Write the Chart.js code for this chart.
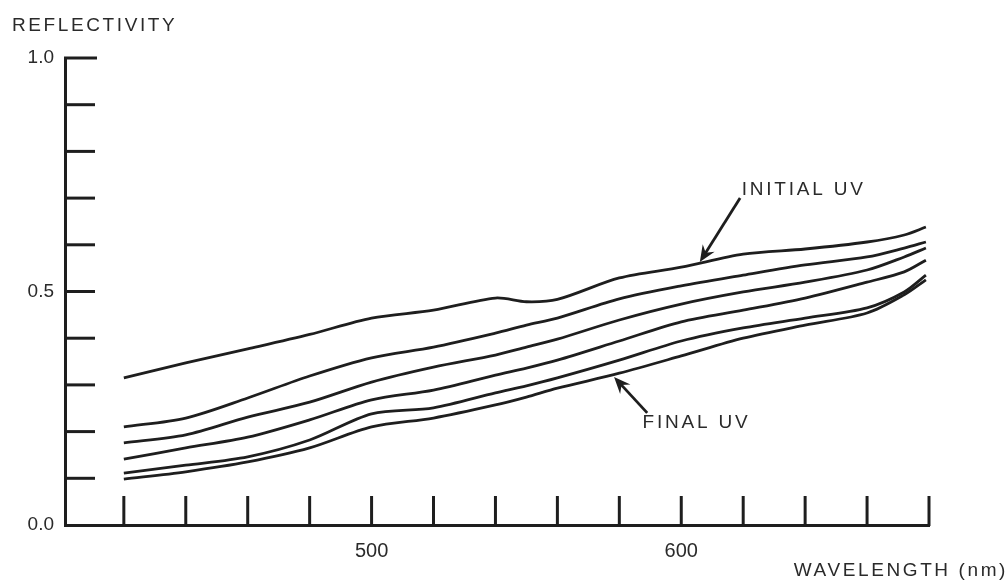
<!DOCTYPE html>
<html>
<head>
<meta charset="utf-8">
<script src="https://cdn.jsdelivr.net/npm/chart.js@4.4.1/dist/chart.umd.min.js"></script>
<style>
  html, body { margin: 0; padding: 0; background: #fff; }
  #wrap { width: 1008px; height: 581px; }
</style>
</head>
<body>
<div id="wrap"><canvas id="chart" width="1008" height="581"></canvas></div>
<script>
// wavelength (nm)
const wavelengths = [420, 440, 460, 480, 500, 520, 540, 550, 560, 580, 600, 620, 640, 660, 672, 679];

// six reflectivity traces, top (initial UV) to bottom (final UV)
const curve1 = [0.315, 0.347, 0.377, 0.408, 0.443, 0.460, 0.486, 0.478, 0.483, 0.529, 0.552, 0.580, 0.591, 0.606, 0.621, 0.638];
const curve2 = [0.210, 0.229, 0.272, 0.319, 0.358, 0.381, 0.411, 0.428, 0.443, 0.484, 0.512, 0.535, 0.557, 0.574, 0.593, 0.606];
const curve3 = [0.176, 0.193, 0.231, 0.263, 0.306, 0.338, 0.364, 0.381, 0.398, 0.439, 0.473, 0.499, 0.520, 0.546, 0.574, 0.593];
const curve4 = [0.141, 0.165, 0.188, 0.225, 0.268, 0.289, 0.321, 0.336, 0.353, 0.394, 0.435, 0.460, 0.486, 0.520, 0.542, 0.567];
const curve5 = [0.111, 0.128, 0.146, 0.182, 0.238, 0.251, 0.283, 0.298, 0.315, 0.353, 0.394, 0.422, 0.443, 0.465, 0.499, 0.535];
const curve6 = [0.098, 0.114, 0.135, 0.165, 0.210, 0.229, 0.257, 0.274, 0.293, 0.325, 0.362, 0.400, 0.428, 0.454, 0.493, 0.525];

const xTicks = [420, 440, 460, 480, 500, 520, 540, 560, 580, 600, 620, 640, 660, 680];
const xTickLabels = { 500: "500", 600: "600" };
const yTicks = [0, 0.1, 0.2, 0.3, 0.4, 0.5, 0.6, 0.7, 0.8, 0.9, 1.0];
const yTickLabels = ["0.0", "0.5", "1.0"];

// annotation labels: text at [nm, value], arrow from -> to
const noteTexts = ["INITIAL UV", "FINAL UV"];
const noteTextAt = [[619.5, 0.717], [587.5, 0.218]];
const noteArrowFrom = [[619, 0.700], [589, 0.240]];
const noteArrowTo = [[606, 0.563], [578.3, 0.317]];

const INK = "#1e1e1e";
const TEXT = "#2a2a2a";
const FONT = "'Liberation Sans', Arial, sans-serif";

const series = [curve1, curve2, curve3, curve4, curve5, curve6];

const innerTicks = {
  id: "innerTicks",
  afterDraw(chart) {
    const { ctx, scales: { x, y } } = chart;
    const x0 = x.left;
    const y0 = y.bottom;
    ctx.save();
    ctx.strokeStyle = INK;
    ctx.lineWidth = 3;
    ctx.lineCap = "butt";
    // y ticks point into the plot
    yTicks.forEach((v) => {
      if (v === 0) return;
      const py = y.getPixelForValue(v);
      const len = v === 1 ? 32 : 30;
      ctx.beginPath();
      ctx.moveTo(x0 - 1, py);
      ctx.lineTo(x0 + len, py);
      ctx.stroke();
    });
    // x ticks point up
    xTicks.forEach((v) => {
      const px = x.getPixelForValue(v);
      ctx.beginPath();
      ctx.moveTo(px, y0 + 1);
      ctx.lineTo(px, y0 - 29);
      ctx.stroke();
    });

    // axis titles
    ctx.fillStyle = TEXT;
    ctx.font = "19px " + FONT;
    ctx.textBaseline = "middle";
    ctx.letterSpacing = "2.6px";
    ctx.textAlign = "left";
    ctx.fillText("REFLECTIVITY", 12, 26);
    ctx.textAlign = "right";
    ctx.fillText("WAVELENGTH (nm)", 1008, 571);

    // annotations
    ctx.letterSpacing = "2.8px";
    ctx.textAlign = "left";
    noteTexts.forEach((t, i) => {
      ctx.fillStyle = TEXT;
      ctx.fillText(t, x.getPixelForValue(noteTextAt[i][0]), y.getPixelForValue(noteTextAt[i][1]));
      const fx = x.getPixelForValue(noteArrowFrom[i][0]);
      const fy = y.getPixelForValue(noteArrowFrom[i][1]);
      const tx = x.getPixelForValue(noteArrowTo[i][0]);
      const ty = y.getPixelForValue(noteArrowTo[i][1]);
      const ang = Math.atan2(ty - fy, tx - fx);
      ctx.lineWidth = 2.8;
      ctx.beginPath();
      ctx.moveTo(fx, fy);
      ctx.lineTo(tx - 8 * Math.cos(ang), ty - 8 * Math.sin(ang));
      ctx.stroke();
      ctx.beginPath();
      ctx.moveTo(tx, ty);
      ctx.lineTo(tx - 18 * Math.cos(ang - 0.4), ty - 18 * Math.sin(ang - 0.4));
      ctx.lineTo(tx - 11 * Math.cos(ang), ty - 11 * Math.sin(ang));
      ctx.lineTo(tx - 18 * Math.cos(ang + 0.4), ty - 18 * Math.sin(ang + 0.4));
      ctx.closePath();
      ctx.fillStyle = INK;
      ctx.fill();
    });
    ctx.restore();
  },
};

new Chart(document.getElementById("chart"), {
  type: "line",
  data: {
    datasets: series.map((vals, i) => ({
      label: "trace " + (i + 1),
      data: wavelengths.map((w, k) => ({ x: w, y: vals[k] })),
      borderColor: INK,
      borderWidth: 2.8,
      pointRadius: 0,
      tension: 0.3,
      fill: false,
    })),
  },
  options: {
    responsive: false,
    animation: false,
    devicePixelRatio: 1,
    layout: { padding: { left: 0, right: 79, top: 58, bottom: 0 } },
    plugins: { legend: { display: false }, tooltip: { enabled: false } },
    scales: {
      x: {
        type: "linear",
        min: 401,
        max: 680,
        afterBuildTicks: (scale) => {
          scale.ticks = xTicks.map((v) => ({ value: v }));
        },
        afterFit: (scale) => {
          scale.height = 56;
        },
        grid: { display: false },
        border: { display: true, color: INK, width: 3 },
        ticks: {
          autoSkip: false,
          maxRotation: 0,
          padding: 6,
          color: TEXT,
          font: { family: FONT, size: 20 },
          callback: (v) => xTickLabels[v] || "",
        },
      },
      y: {
        min: 0,
        max: 1,
        afterBuildTicks: (scale) => {
          scale.ticks = yTicks.map((v) => ({ value: v }));
        },
        afterFit: (scale) => {
          scale.width = 65;
        },
        grid: { display: false },
        border: { display: true, color: INK, width: 3 },
        ticks: {
          padding: 3,
          color: TEXT,
          font: { family: FONT, size: 19 },
          callback: (v) => {
            const s = v.toFixed(1);
            return yTickLabels.includes(s) ? s : "";
          },
        },
      },
    },
  },
  plugins: [innerTicks],
});
</script>
</body>
</html>
